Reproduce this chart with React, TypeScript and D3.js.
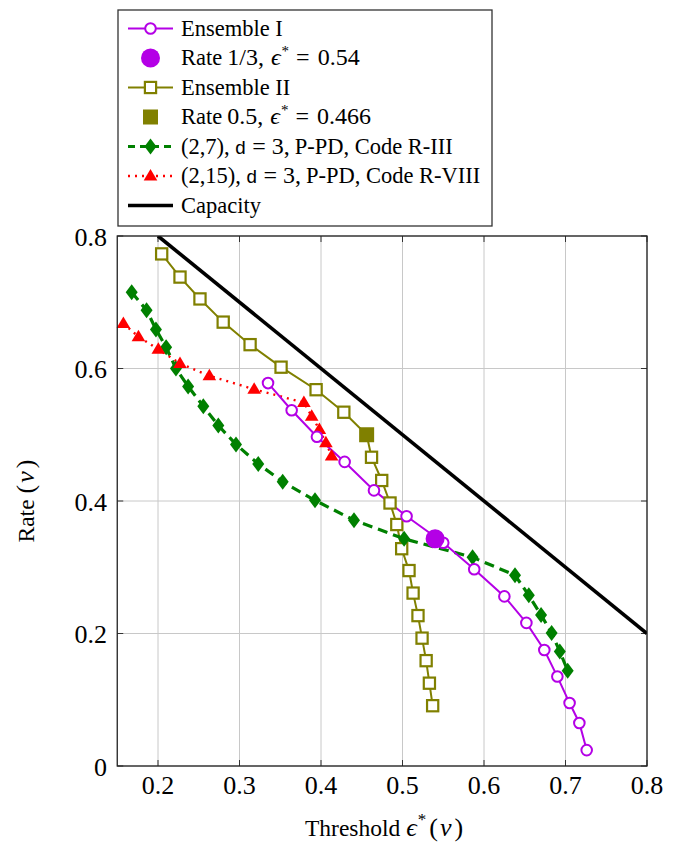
import React from "react";
import * as d3 from "d3";

const ensemble1X = [0.335, 0.364, 0.395, 0.429, 0.465, 0.505, 0.55, 0.588, 0.625, 0.652, 0.674, 0.69, 0.705, 0.717, 0.726];
const ensemble1Y = [0.578, 0.537, 0.497, 0.459, 0.416, 0.377, 0.337, 0.297, 0.256, 0.216, 0.175, 0.135, 0.095, 0.065, 0.024];

const rate13X = [0.54];
const rate13Y = [0.343];

const ensemble2X = [0.2045, 0.227, 0.2515, 0.28, 0.313, 0.351, 0.394, 0.428, 0.456, 0.462, 0.4745, 0.4847, 0.493, 0.499, 0.508, 0.513, 0.519, 0.524, 0.529, 0.533, 0.537];
const ensemble2Y = [0.773, 0.738, 0.705, 0.67, 0.636, 0.602, 0.568, 0.534, 0.5, 0.466, 0.431, 0.397, 0.3645, 0.328, 0.295, 0.261, 0.227, 0.193, 0.159, 0.125, 0.091];

const rate05X = [0.456];
const rate05Y = [0.5];

const code27X = [0.1677, 0.186, 0.1975, 0.21, 0.222, 0.237, 0.2556, 0.274, 0.2957, 0.323, 0.353, 0.3926, 0.4405, 0.502, 0.586, 0.638, 0.655, 0.67, 0.683, 0.693, 0.7027];
const code27Y = [0.715, 0.688, 0.659, 0.632, 0.6, 0.573, 0.543, 0.514, 0.4854, 0.456, 0.429, 0.401, 0.371, 0.343, 0.315, 0.288, 0.2576, 0.228, 0.2007, 0.173, 0.1437];

const code215X = [0.1575, 0.176, 0.2004, 0.227, 0.263, 0.318, 0.379, 0.3886, 0.398, 0.406, 0.413];
const code215Y = [0.668, 0.648, 0.629, 0.6075, 0.589, 0.5686, 0.5485, 0.528, 0.508, 0.488, 0.468];

const capacityX = [0.2, 0.8];
const capacityY = [0.8, 0.2];

const xTicks = [0.2, 0.3, 0.4, 0.5, 0.6, 0.7, 0.8];
const yTicks = [0, 0.2, 0.4, 0.6, 0.8];

const PURPLE = "#b400e6";
const OLIVE = "#808000";
const GREEN = "#008000";
const RED = "#ff0000";

const L = 117.25, R = 647, T = 236, B = 766;

const x = d3.scaleLinear().domain([0.15, 0.8]).range([L, R]);
const y = d3.scaleLinear().domain([0, 0.8]).range([B, T]);

const zip = (xs: number[], ys: number[]) => xs.map((v, i) => [v, ys[i]] as [number, number]);
const line = d3.line<[number, number]>().x(d => x(d[0])).y(d => y(d[1]));

const serif = "'Liberation Serif', 'Times New Roman', serif";
const mono = "'Liberation Mono', 'DejaVu Sans Mono', monospace";

function Circle({ cx, cy }: { cx: number; cy: number }) {
  return <circle cx={cx} cy={cy} r={5.3} fill="white" stroke={PURPLE} strokeWidth={2} />;
}
function Square({ cx, cy }: { cx: number; cy: number }) {
  return <rect x={cx - 5.6} y={cy - 5.6} width={11.2} height={11.2} fill="white" stroke={OLIVE} strokeWidth={2.2} />;
}
function Diamond({ cx, cy }: { cx: number; cy: number }) {
  return <path d={`M${cx},${cy - 8}L${cx + 6},${cy}L${cx},${cy + 8}L${cx - 6},${cy}Z`} fill={GREEN} />;
}
function Triangle({ cx, cy }: { cx: number; cy: number }) {
  return <path d={`M${cx},${cy - 7}L${cx + 6.8},${cy + 4.5}L${cx - 6.8},${cy + 4.5}Z`} fill={RED} />;
}

export default function App() {
  const e1 = zip(ensemble1X, ensemble1Y);
  const e2 = zip(ensemble2X, ensemble2Y);
  const c27 = zip(code27X, code27Y);
  const c215 = zip(code215X, code215Y);
  const cap = zip(capacityX, capacityY);
  const r13 = zip(rate13X, rate13Y);
  const r05 = zip(rate05X, rate05Y);

  const legY = (i: number) => 28.5 + i * 29.5;
  const lx0 = 128, lx1 = 173, lxm = 150.5;
  const fs = 22.5;
  const mfs = 24;

  return (
    <svg width={677} height={844} style={{ position: "absolute", left: 0, top: 0, background: "white" }}>
      <defs>
        <clipPath id="plotclip">
          <rect x={L} y={T} width={R - L} height={B - T} />
        </clipPath>
      </defs>
      <rect x={0} y={0} width={677} height={844} fill="white" />
      {xTicks.map(t => (
        <line key={"gx" + t} x1={x(t)} x2={x(t)} y1={T} y2={B} stroke="#c8c8c8" strokeWidth={1} />
      ))}
      {yTicks.map(t => (
        <line key={"gy" + t} x1={L} x2={R} y1={y(t)} y2={y(t)} stroke="#c8c8c8" strokeWidth={1} />
      ))}
      {xTicks.map(t => (
        <g key={"tx" + t}>
          <line x1={x(t)} x2={x(t)} y1={B} y2={B - 6} stroke="#333" strokeWidth={1} />
          <line x1={x(t)} x2={x(t)} y1={T} y2={T + 6} stroke="#333" strokeWidth={1} />
        </g>
      ))}
      {yTicks.map(t => (
        <g key={"ty" + t}>
          <line x1={L} x2={L + 6} y1={y(t)} y2={y(t)} stroke="#333" strokeWidth={1} />
          <line x1={R} x2={R - 6} y1={y(t)} y2={y(t)} stroke="#333" strokeWidth={1} />
        </g>
      ))}

      <g clipPath="url(#plotclip)">
        <path d={line(cap) || ""} fill="none" stroke="black" strokeWidth={3.6} />
        <path d={line(e2) || ""} fill="none" stroke={OLIVE} strokeWidth={2} />
        <path d={line(c27) || ""} fill="none" stroke={GREEN} strokeWidth={3.2} strokeDasharray="10,6" />
        <path d={line(c215) || ""} fill="none" stroke={RED} strokeWidth={2.4} strokeDasharray="2,5" />
        <path d={line(e1) || ""} fill="none" stroke={PURPLE} strokeWidth={2} />
      </g>
      {e2.map((d, i) => <Square key={"s" + i} cx={x(d[0])} cy={y(d[1])} />)}
      {c27.map((d, i) => <Diamond key={"d" + i} cx={x(d[0])} cy={y(d[1])} />)}
      {c215.map((d, i) => <Triangle key={"t" + i} cx={x(d[0])} cy={y(d[1])} />)}
      {e1.map((d, i) => <Circle key={"c" + i} cx={x(d[0])} cy={y(d[1])} />)}
      {r05.map((d, i) => (
        <rect key={"fs" + i} x={x(d[0]) - 7.5} y={y(d[1]) - 7.5} width={15} height={15} fill={OLIVE} />
      ))}
      {r13.map((d, i) => (
        <circle key={"fc" + i} cx={x(d[0])} cy={y(d[1])} r={9.5} fill={PURPLE} />
      ))}

      <rect x={L} y={T} width={R - L} height={B - T} fill="none" stroke="#222" strokeWidth={1.3} />

      {xTicks.map(t => (
        <text key={"xl" + t} x={x(t)} y={794} textAnchor="middle" fontFamily={serif} fontSize={26}>
          {t.toFixed(1)}
        </text>
      ))}
      {yTicks.map(t => (
        <text key={"yl" + t} x={107} y={y(t) + 9.5} textAnchor="end" fontFamily={serif} fontSize={26}>
          {t === 0 ? "0" : t.toFixed(1)}
        </text>
      ))}

      {/* x axis label */}
      <text x={305} y={836} fontFamily={serif} fontSize={23.5}>
        Threshold
        <tspan dx={6} fontStyle="italic" fontSize={26}>ϵ</tspan>
        <tspan dx={1} dy={-11} fontSize={17}>*</tspan>
        <tspan dx={3} dy={11} fontSize={26}>(</tspan>
        <tspan dx={2} fontStyle="italic" fontSize={26}>ν</tspan>
        <tspan dx={3} fontSize={26}>)</tspan>
      </text>
      {/* y axis label */}
      <text transform="translate(34,501) rotate(-90)" textAnchor="middle" fontFamily={serif} fontSize={23.5}>
        Rate
        <tspan dx={6} fontSize={26}>(</tspan>
        <tspan dx={2} fontStyle="italic" fontSize={26}>ν</tspan>
        <tspan dx={3} fontSize={26}>)</tspan>
      </text>

      {/* legend */}
      <rect x={118} y={10} width={374} height={216} fill="white" stroke="#333" strokeWidth={1.3} />

      <line x1={lx0} x2={lx1} y1={legY(0)} y2={legY(0)} stroke={PURPLE} strokeWidth={2} />
      <Circle cx={lxm} cy={legY(0)} />
      <text x={181} y={legY(0) + 7} fontFamily={serif} fontSize={fs}>Ensemble I</text>

      <circle cx={lxm} cy={legY(1)} r={9.5} fill={PURPLE} />
      <text x={181} y={legY(1) + 7} fontFamily={serif} fontSize={fs}>
        Rate
        <tspan dx={5} fontSize={mfs}>1/3,</tspan>
        <tspan dx={7} fontStyle="italic" fontSize={mfs}>ϵ</tspan>
        <tspan dx={1} dy={-9} fontSize={15}>*</tspan>
        <tspan dx={7} dy={9} fontSize={mfs}>=</tspan>
        <tspan dx={8} fontSize={mfs}>0.54</tspan>
      </text>

      <line x1={lx0} x2={lx1} y1={legY(2)} y2={legY(2)} stroke={OLIVE} strokeWidth={2} />
      <Square cx={lxm} cy={legY(2)} />
      <text x={181} y={legY(2) + 7} fontFamily={serif} fontSize={fs}>Ensemble II</text>

      <rect x={lxm - 7.5} y={legY(3) - 7.5} width={15} height={15} fill={OLIVE} />
      <text x={181} y={legY(3) + 7} fontFamily={serif} fontSize={fs}>
        Rate
        <tspan dx={5} fontSize={mfs}>0.5,</tspan>
        <tspan dx={7} fontStyle="italic" fontSize={mfs}>ϵ</tspan>
        <tspan dx={1} dy={-9} fontSize={15}>*</tspan>
        <tspan dx={7} dy={9} fontSize={mfs}>=</tspan>
        <tspan dx={8} fontSize={mfs}>0.466</tspan>
      </text>

      <line x1={lx0} x2={lx1} y1={legY(4)} y2={legY(4)} stroke={GREEN} strokeWidth={3.2} strokeDasharray="7,5" />
      <Diamond cx={lxm} cy={legY(4)} />
      <text x={181} y={legY(4) + 7} fontFamily={serif} fontSize={fs}>
        (2,7),
        <tspan dx={5} fontFamily={mono} fontSize={19}>d</tspan>
        <tspan dx={6} fontSize={mfs}>=</tspan>
        <tspan dx={6} fontSize={mfs}>3,</tspan>
        <tspan dx={5}>P-PD, Code R-III</tspan>
      </text>

      <line x1={lx0} x2={lx1} y1={legY(5)} y2={legY(5)} stroke={RED} strokeWidth={2.4} strokeDasharray="2,5" />
      <Triangle cx={lxm} cy={legY(5)} />
      <text x={181} y={legY(5) + 7} fontFamily={serif} fontSize={fs}>
        (2,15),
        <tspan dx={5} fontFamily={mono} fontSize={19}>d</tspan>
        <tspan dx={6} fontSize={mfs}>=</tspan>
        <tspan dx={6} fontSize={mfs}>3,</tspan>
        <tspan dx={5}>P-PD, Code R-VIII</tspan>
      </text>

      <line x1={lx0} x2={lx1} y1={legY(6)} y2={legY(6)} stroke="black" strokeWidth={3.6} />
      <text x={181} y={legY(6) + 7} fontFamily={serif} fontSize={fs}>Capacity</text>
    </svg>
  );
}
